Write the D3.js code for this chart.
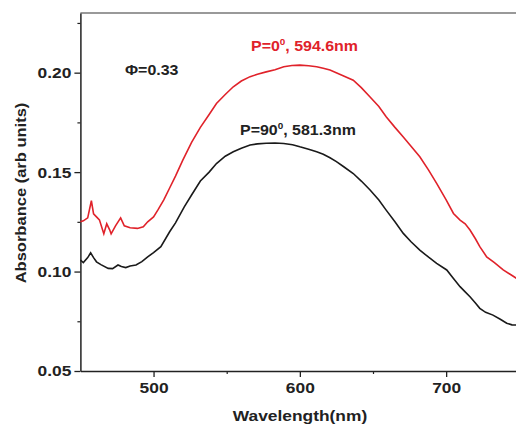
<!DOCTYPE html>
<html>
<head>
<meta charset="utf-8" />
<title>Absorbance spectra</title>
<script src="https://d3js.org/d3.v7.min.js"></script>
<style>
  body { margin: 0; background: #fff; }
  svg { display: block; overflow: hidden; }
  text { font-family: "Liberation Sans", Arial, sans-serif; font-weight: bold; }
</style>
</head>
<body>
<svg width="516" height="427"></svg>
<script>
// P = 0 deg (red)
var redWl = [450, 452, 455, 457.5, 459, 461, 463, 466, 468, 470, 471, 474, 477.5, 480, 484, 489, 493, 496, 500, 503, 507, 511, 515, 520, 526, 532, 538, 543, 549, 554.5, 560, 566, 571, 577, 583, 589, 594.6, 600, 606, 611.5, 616, 620.6, 628, 636.5, 642, 648, 654, 659, 665, 670.7, 676, 682, 688, 693.5, 700, 705, 709.5, 713, 716.3, 720, 723, 727.7, 733, 739, 744, 748, 751];
var redAbs = [0.125, 0.1255, 0.127, 0.1356, 0.129, 0.1275, 0.126, 0.119, 0.124, 0.121, 0.119, 0.123, 0.127, 0.123, 0.122, 0.1217, 0.1225, 0.125, 0.1275, 0.131, 0.136, 0.142, 0.148, 0.156, 0.165, 0.1725, 0.179, 0.1845, 0.189, 0.1929, 0.1958, 0.198, 0.1992, 0.2004, 0.2015, 0.203, 0.2036, 0.2038, 0.2035, 0.203, 0.2022, 0.2013, 0.199, 0.1962, 0.1925, 0.1878, 0.183, 0.1778, 0.1725, 0.1677, 0.163, 0.1577, 0.151, 0.1443, 0.136, 0.1292, 0.1259, 0.124, 0.1209, 0.1165, 0.1125, 0.1074, 0.1045, 0.1008, 0.0985, 0.0966, 0.095];

// P = 90 deg (black)
var blackWl = [450, 452, 455, 457, 459, 461, 464, 469, 472, 475.7, 478, 481, 484, 488, 492, 496, 500, 505, 511, 515, 521, 526, 532, 538, 543, 549, 554.5, 560, 566, 571, 577, 583, 589, 595, 600, 606, 611.5, 616, 620.6, 625, 630, 636.5, 642, 648, 654, 659, 665, 670.7, 676, 682, 688, 693.5, 700.4, 705, 709.5, 713, 716.3, 720, 723, 727, 732, 737, 741.4, 745, 748, 751];
var blackAbs = [0.1058, 0.1045, 0.107, 0.1094, 0.107, 0.1049, 0.1035, 0.1016, 0.1015, 0.1033, 0.1025, 0.102, 0.1028, 0.1033, 0.105, 0.1074, 0.1095, 0.1125, 0.12, 0.1245, 0.1325, 0.1385, 0.1455, 0.150, 0.1543, 0.158, 0.1602, 0.162, 0.1636, 0.1642, 0.1645, 0.1646, 0.1644, 0.1638, 0.1627, 0.1615, 0.1602, 0.159, 0.1572, 0.1553, 0.1527, 0.1493, 0.1455, 0.141, 0.136, 0.1309, 0.125, 0.1192, 0.115, 0.1108, 0.1072, 0.1041, 0.1008, 0.0965, 0.0924, 0.0898, 0.0873, 0.0842, 0.0815, 0.0795, 0.0781, 0.076, 0.074, 0.0732, 0.0731, 0.073];

var xTicks = [500, 600, 700];
var xMinor = [550, 650, 750];
var yTicks = [0.05, 0.10, 0.15, 0.20];
var yMinor = [0.075, 0.125, 0.175, 0.225];

const svg = d3.select('svg');

var x = d3.scaleLinear().domain([450, 750]).range([80.4, 519.3]);
var y = d3.scaleLinear().domain([0.05, 0.23]).range([371, 13]);

// stretch text a bit wider, the source font is wide
function stretch(sel, k) {
    sel.each(function () {
        var len = this.getComputedTextLength();
        d3.select(this).attr('textLength', len * k).attr('lengthAdjust', 'spacingAndGlyphs');
    });
}

// top frame line
svg.append('line')
    .attr('x1', x(450)).attr('x2', x(750))
    .attr('y1', y(0.23)).attr('y2', y(0.23))
    .attr('stroke', '#777').attr('stroke-width', 1.6);

// minor ticks
svg.append('g').attr('transform', 'translate(0,' + y(0.05) + ')')
    .call(d3.axisBottom(x).tickValues(xMinor).tickSize(3).tickFormat(''))
    .call(g => g.select('.domain').remove())
    .selectAll('line').attr('stroke', '#222').attr('stroke-width', 1.2);

svg.append('g').attr('transform', 'translate(' + x(450) + ',0)')
    .call(d3.axisLeft(y).tickValues(yMinor).tickSize(3).tickFormat(''))
    .call(g => g.select('.domain').remove())
    .selectAll('line').attr('stroke', '#222').attr('stroke-width', 1.2);

// x axis
var xAxisG = svg.append('g').attr('transform', 'translate(0,' + y(0.05) + ')')
    .call(d3.axisBottom(x).tickValues(xTicks).tickSize(6).tickSizeOuter(0).tickPadding(5));
xAxisG.select('.domain').attr('stroke', '#222').attr('stroke-width', 1.5);
xAxisG.selectAll('.tick line').attr('stroke', '#222').attr('stroke-width', 1.3);
xAxisG.selectAll('text').attr('font-size', 15.5).attr('fill', '#222')
    .call(stretch, 1.12);

// y axis
var yAxisG = svg.append('g').attr('transform', 'translate(' + x(450) + ',0)')
    .call(d3.axisLeft(y).tickValues(yTicks).tickSize(6).tickSizeOuter(0).tickPadding(3)
        .tickFormat(d3.format('.2f')));
yAxisG.select('.domain').attr('stroke', '#222').attr('stroke-width', 1.5);
yAxisG.selectAll('.tick line').attr('stroke', '#222').attr('stroke-width', 1.3);
yAxisG.selectAll('text').attr('font-size', 15.5).attr('fill', '#222')
    .call(stretch, 1.12);

// axis titles
svg.append('text')
    .attr('x', 300).attr('y', 421)
    .attr('text-anchor', 'middle')
    .attr('font-size', 15.5).attr('fill', '#222')
    .text('Wavelength(nm)')
    .call(stretch, 1.12);

svg.append('text')
    .attr('transform', 'translate(26,193) rotate(-90)')
    .attr('text-anchor', 'middle')
    .attr('font-size', 15).attr('fill', '#222')
    .text('Absorbance (arb units)')
    .call(stretch, 1.1);

// curves
var line = d3.line().x(d => x(d[0])).y(d => y(d[1]));

svg.append('path')
    .datum(d3.zip(blackWl, blackAbs))
    .attr('d', line)
    .attr('fill', 'none').attr('stroke', '#1a1a1a').attr('stroke-width', 1.6);

svg.append('path')
    .datum(d3.zip(redWl, redAbs))
    .attr('d', line)
    .attr('fill', 'none').attr('stroke', '#e0222a').attr('stroke-width', 1.6);

// annotations
svg.append('text')
    .attr('x', 125).attr('y', 75)
    .attr('font-size', 14.5).attr('fill', '#222')
    .text('\u03A6=0.33')
    .call(stretch, 1.1);

function label(xp, yp, col, a, b) {
    var t = svg.append('text').attr('x', xp).attr('y', yp)
        .attr('font-size', 14.5).attr('fill', col);
    t.append('tspan').text(a);
    t.append('tspan').attr('dy', -6).attr('font-size', 9).text('0');
    t.append('tspan').attr('dy', 6).text(b);
    t.call(stretch, 1.1);
}
label(251, 51, '#e0222a', 'P=0', ', 594.6nm');
label(240, 135, '#222', 'P=90', ', 581.3nm');
</script>
</body>
</html>
